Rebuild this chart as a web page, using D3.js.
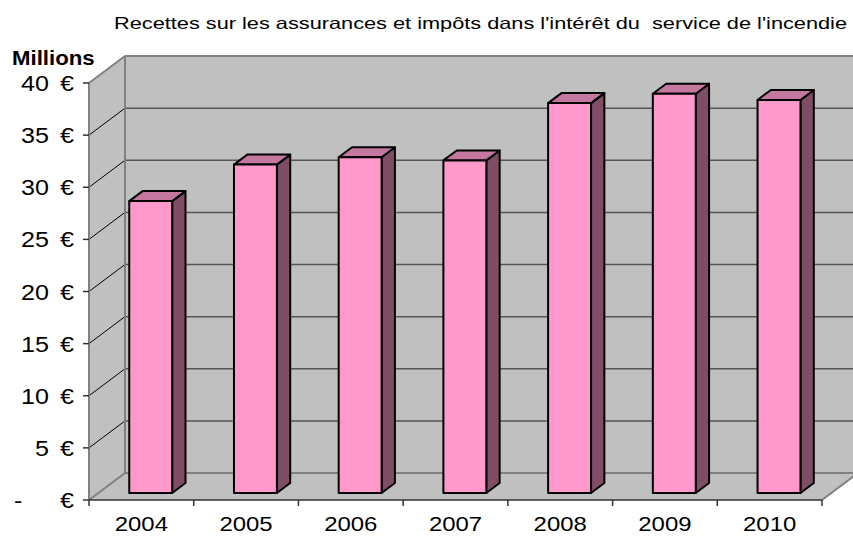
<!DOCTYPE html>
<html>
<head>
<meta charset="utf-8">
<script src="https://cdn.jsdelivr.net/npm/d3@7"></script>
<style>
  body { margin: 0; background: #fff; }
  text { font-family: 'Liberation Sans', Arial, sans-serif; white-space: pre; }
</style>
</head>
<body>
<script>
const years = ['2004', '2005', '2006', '2007', '2008', '2009', '2010'];
const recettes = [28.0, 31.5, 32.2, 31.9, 37.4, 38.3, 37.7];
const yTicks = [0, 5, 10, 15, 20, 25, 30, 35, 40];
const tickLabels = ['-', '5', '10', '15', '20', '25', '30', '35', '40'];
const title = "Recettes sur les assurances et impôts dans l'intérêt du  service de l'incendie";

const width = 853;
const height = 536;
const sx = 1.14; // the original picture is stretched a bit sideways

const svg = d3.select('body').append('svg')
    .attr('width', width)
    .attr('height', height);

const x = d3.scaleBand().domain(years).range([89, 822]);
const y = d3.scaleLinear().domain([0, 40]).range([500, 83]);
const depth = { x: 36, y: -27 };

const line = (g, x1, y1, x2, y2, color, w) => g.append('line')
    .attr('x1', x1).attr('y1', y1).attr('x2', x2).attr('y2', y2)
    .attr('stroke', color).attr('stroke-width', w);

// walls and floor
const walls = svg.append('g');
const x0 = x.range()[0], x1 = x.range()[1];
const poly = pts => pts.map(p => p.join(',')).join(' ');

walls.append('polygon')
    .attr('points', poly([[x0 + depth.x, y(40) + depth.y], [x1 + depth.x, y(40) + depth.y],
        [x1 + depth.x, y(0) + depth.y], [x0 + depth.x, y(0) + depth.y]]))
    .attr('fill', '#c0c0c0');
walls.append('polygon')
    .attr('points', poly([[x0, y(40)], [x0 + depth.x, y(40) + depth.y],
        [x0 + depth.x, y(0) + depth.y], [x0, y(0)]]))
    .attr('fill', '#c0c0c0');
walls.append('polygon')
    .attr('points', poly([[x0, y(0)], [x1, y(0)], [x1 + depth.x, y(0) + depth.y], [x0 + depth.x, y(0) + depth.y]]))
    .attr('fill', '#c0c0c0');

// gridlines
yTicks.forEach(t => {
  const edge = t === 0 || t === 40;
  line(walls, x0 + depth.x, y(t) + depth.y, x1 + depth.x, y(t) + depth.y, edge ? '#808080' : '#555', edge ? 2 : 1.5);
  line(walls, x0, y(t), x0 + depth.x, y(t) + depth.y, edge ? '#808080' : '#000', edge ? 2 : 1);
});
line(walls, x0 + depth.x, y(40) + depth.y, x0 + depth.x, y(0) + depth.y, '#808080', 2);
line(walls, x0, y(40), x0, y(0), '#808080', 2);
line(walls, x1, y(0), x1 + depth.x, y(0) + depth.y, '#808080', 2);

// axes
line(walls, x0, y(0), x1, y(0), '#333', 1.5);
years.concat([null]).forEach(d => {
  const xp = d ? x(d) : x1;
  line(walls, xp, y(0), xp, y(0) + 6, '#333', 1.5);
});
yTicks.forEach(t => line(walls, x0 - 6, y(t), x0, y(t), '#333', 1.5));

// bars
const bw = x.bandwidth() * 0.41;
const f1 = 0.26, f2 = 0.63;
const ddx = (f2 - f1) * depth.x, ddy = (f2 - f1) * depth.y;

const bars = svg.append('g').selectAll('g')
    .data(years.map((d, i) => ({ year: d, value: recettes[i] })))
    .join('g')
    .attr('stroke', '#000')
    .attr('stroke-width', 2)
    .attr('stroke-linejoin', 'round');

const bx = d => x(d.year) + (x.bandwidth() - bw) / 2 + f1 * depth.x;
const byTop = d => y(d.value) + f1 * depth.y;
const byBase = () => y(0) + f1 * depth.y;

bars.append('polygon')
    .attr('fill', '#804d66')
    .attr('points', d => poly([[bx(d) + bw, byTop(d)], [bx(d) + bw + ddx, byTop(d) + ddy],
        [bx(d) + bw + ddx, byBase() + ddy], [bx(d) + bw, byBase()]]));
bars.append('polygon')
    .attr('fill', '#c4779f')
    .attr('points', d => poly([[bx(d), byTop(d)], [bx(d) + bw, byTop(d)],
        [bx(d) + bw + ddx, byTop(d) + ddy], [bx(d) + ddx, byTop(d) + ddy]]));
bars.append('rect')
    .attr('fill', '#ff99cc')
    .attr('x', bx)
    .attr('y', byTop)
    .attr('width', bw)
    .attr('height', d => byBase() - byTop(d));

// texts
const label = (tx, ty, str, size, anchor, weight) => svg.append('text')
    .attr('transform', `translate(${tx},${ty}) scale(${sx},1)`)
    .attr('text-anchor', anchor || 'start')
    .attr('font-size', size)
    .attr('font-weight', weight || 'normal')
    .attr('fill', '#000')
    .text(str);

svg.append('text')
    .attr('x', 114)
    .attr('y', 29)
    .attr('font-size', 16.5)
    .attr('textLength', 733)
    .attr('lengthAdjust', 'spacingAndGlyphs')
    .text(title);

label(12, 65, 'Millions', 19.5, 'start', 'bold');

yTicks.forEach((t, i) => {
  if (t === 0) label(14, y(t) + 8, tickLabels[i], 22);
  else label(49, y(t) + 8, tickLabels[i], 22, 'end');
  label(74, y(t) + 8, '€', 22, 'end');
});

years.forEach(d => label(x(d) + x.bandwidth() / 2, 531, d, 21, 'middle'));
</script>
</body>
</html>
